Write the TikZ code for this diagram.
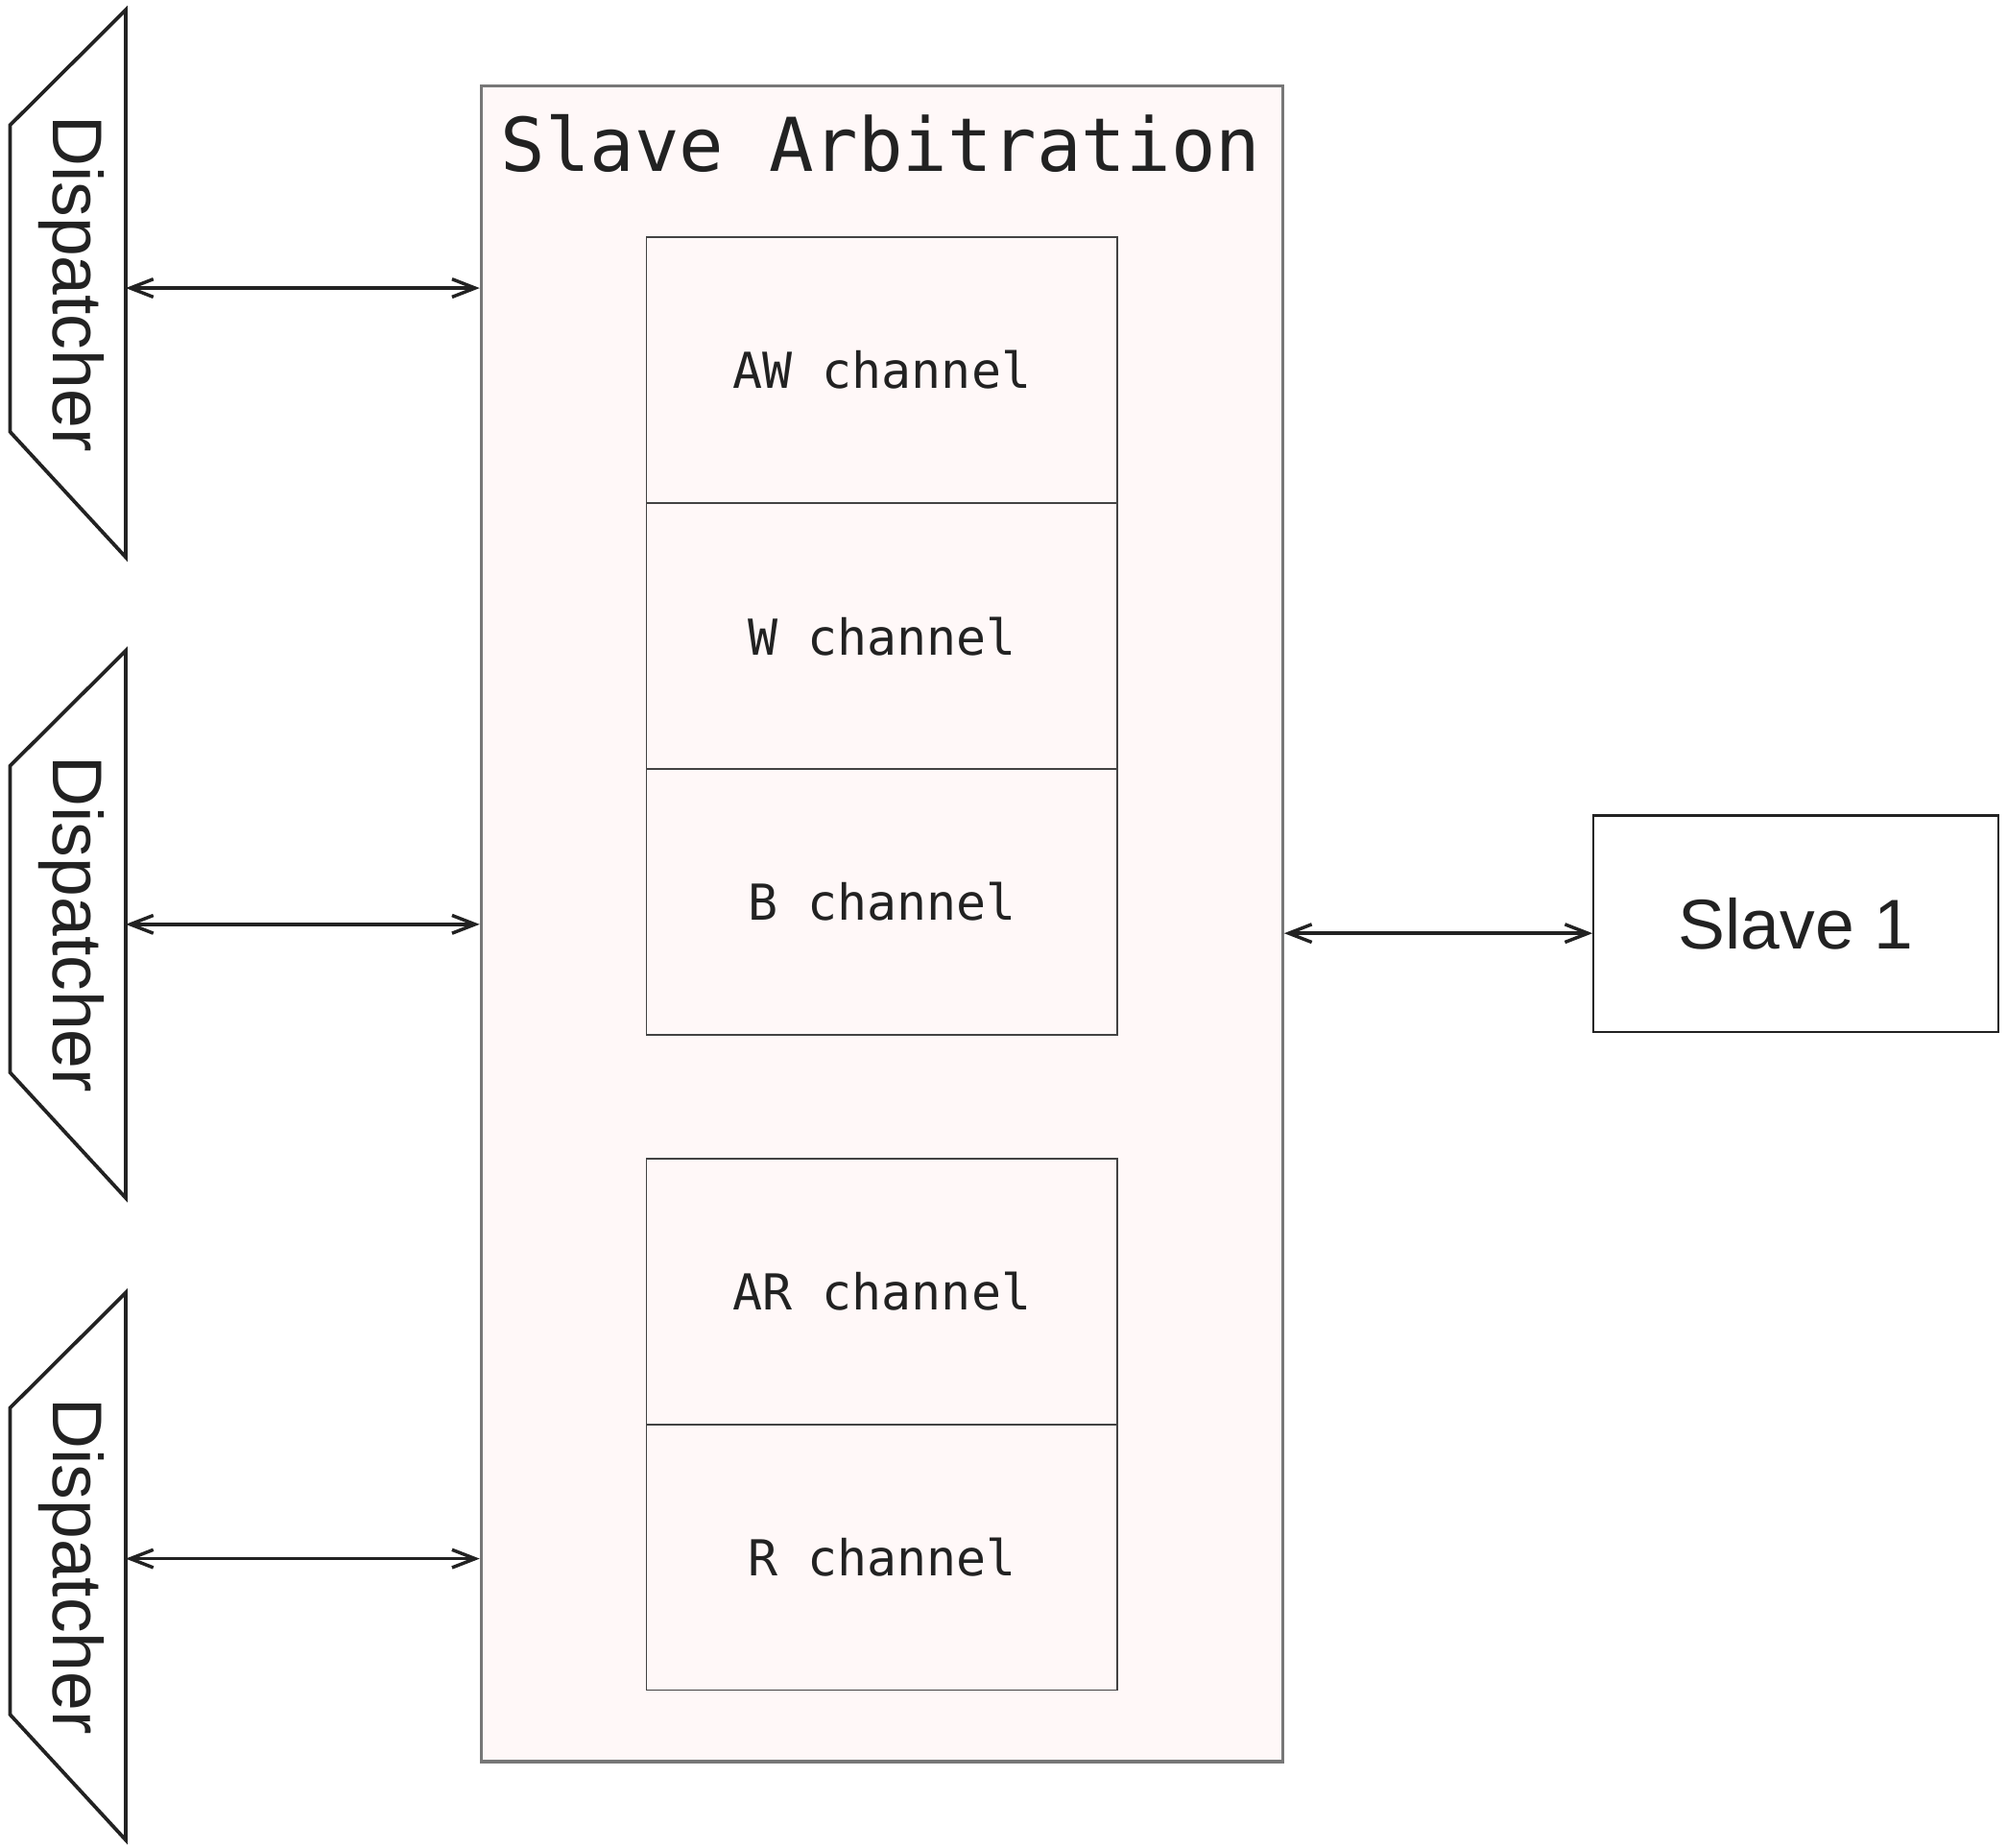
\documentclass[tikz,border=0pt]{standalone}
\usepackage{fontspec}
\setmainfont{Liberation Sans}
\setmonofont{DejaVu Sans Mono}
\usetikzlibrary{arrows.meta}
\definecolor{ink}{HTML}{222222}
\definecolor{pinkfill}{HTML}{FFF8F8}
\definecolor{graybd}{HTML}{777777}
\tikzset{
  arbbox/.style={draw=graybd, line width=2.5pt, fill=pinkfill, inner sep=0pt},
  chanbox/.style={draw=ink!85, line width=1.2pt, fill=pinkfill, inner sep=0pt,
     minimum width=368pt, minimum height=207.5pt,
     font=\ttfamily\fontsize{38.7}{40}\selectfont, text=ink},
  dispbox/.style={inner sep=0pt, minimum width=90pt, minimum height=427pt},
  disptext/.style={rotate=-90, font=\fontsize{55}{60}\selectfont, text=ink},
  slavebox/.style={draw=ink, line width=1.6pt, fill=white, inner sep=0pt,
     minimum width=316pt, minimum height=169pt,
     font=\fontsize{55}{60}\selectfont, text=ink},
  dispshape/.style={draw=ink, line width=2.8pt, line join=miter},
  biarrow/.style={draw=ink, line width=2.6pt,
     {Straight Barb[length=18pt,width=14pt,line width=2.6pt]}-{Straight Barb[length=18pt,width=14pt,line width=2.6pt]}}
}
\begin{document}
\begin{tikzpicture}[x=1pt,y=1pt]
\useasboundingbox (0,0) rectangle (1568,-1443.5);

% outer arbitration box
\node[arbbox, minimum width=626pt, minimum height=1309pt] (arb) at (689,-721.5) {};
\node[anchor=base, font=\ttfamily\fontsize{58}{60}\selectfont, text=ink, inner sep=0pt] (title) at (688,-134) {Slave Arbitration};

% channels
\node[chanbox] (aw) at (689,-289) {AW channel};
\node[chanbox] (w)  at (689,-497) {W channel};
\node[chanbox] (b)  at (689,-704.5) {B channel};
\node[chanbox] (ar) at (689,-1009) {AR channel};
\node[chanbox] (r)  at (689,-1216.5) {R channel};

% dispatchers
\foreach \n/\cy in {d1/-221.5, d2/-722, d3/-1223.5}{
  \node[dispbox] (\n) at (53,\cy) {};
  \draw[dispshape] (\n.north east) -- ([yshift=-90pt]\n.north west) -- ([yshift=98pt]\n.south west) -- (\n.south east) -- cycle;
  \node[disptext] at ([xshift=3pt]\n.center) {Dispatcher};
}

% slave
\node[slavebox] (slave) at (1403,-721.5) {Slave 1};

% connectors
\draw[biarrow] ([yshift=-3.5pt]d1.east) -- ([yshift=-3.5pt]d1.east -| arb.west);
\draw[biarrow] (d2.east) -- (d2.east -| arb.west);
\draw[biarrow] ([yshift=6pt]d3.east) -- ([yshift=6pt]d3.east -| arb.west);
\coordinate (sy) at (0,-729);
\draw[biarrow] (arb.east |- sy) -- (slave.west |- sy);
\end{tikzpicture}
\end{document}
